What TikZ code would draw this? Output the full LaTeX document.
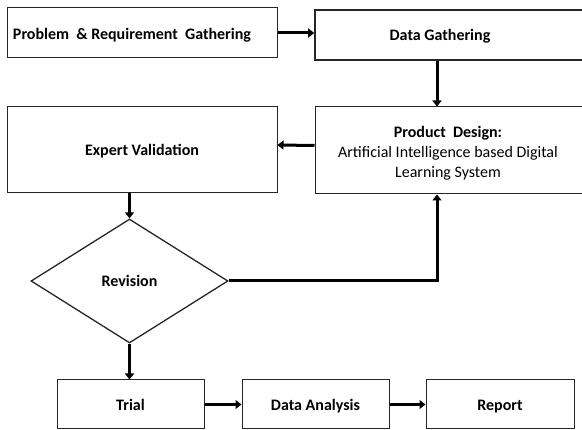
\documentclass[tikz,border=0pt]{standalone}
\usepackage{fontspec}
\setmainfont{Carlito}
\usetikzlibrary{arrows.meta,shapes.geometric}

\tikzset{
  labelfont/.style={font=\fontsize{16}{20}\selectfont\bfseries, text height=13pt, text depth=1pt},
  stepbox/.style={draw=black!85, line width=1pt, rectangle, inner sep=0pt, labelfont},
  widebox/.style={stepbox, line width=1.6pt},
  txt/.style={inner sep=0pt, align=center, font=\fontsize{16}{20}\selectfont},
  decision/.style={draw=black!85, line width=1.3pt, diamond, aspect=1.59, inner sep=0pt,
    minimum width=197pt, minimum height=124pt, labelfont},
  flow/.style={line width=3pt, -{Triangle[width=9pt,length=6pt]}},
}

\begin{document}
\begin{tikzpicture}[x=1pt, y=-1pt]
  \useasboundingbox (0,0) rectangle (582,430);
  \clip (0,0) rectangle (582,430);

  % top row
  \node[stepbox, minimum width=270pt, minimum height=50pt] (b1) at (142,33) {};
  \node[inner sep=0pt, labelfont] (t1) at (132,34) {Problem \ \& Requirement \ Gathering};
  \node[widebox, minimum width=285pt, minimum height=50pt] (b2) at (457.5,35) {};
  \node[inner sep=0pt, labelfont] (t2) at (440,35) {Data Gathering};

  % middle row
  \node[stepbox, minimum width=270pt, minimum height=86pt] (b4) at (142,150) {Expert Validation};
  \node[stepbox, minimum width=285pt, minimum height=87pt] (b3) at (457.5,150.5) {};
  \node[txt] (t3) at (448,153) {\textbf{Product \ Design:}\\Artificial Intelligence based Digital\\Learning System};

  % decision
  \node[decision] (rev) at (129.5,281) {Revision};

  % bottom row
  \node[stepbox, minimum width=147pt, minimum height=49pt] (trial) at (130.5,404.5) {Trial};
  \node[stepbox, minimum width=147pt, minimum height=49pt] (da) at (315.5,404.5) {Data Analysis};
  \node[stepbox, minimum width=148pt, minimum height=49pt] (rep) at (500,404.5) {Report};

  \coordinate (col) at (437,0);

  % connectors
  \draw[flow] (b1.east) -- (b1.east -| b2.west);
  \draw[flow] (col |- b2.south) -- (col |- b3.north);
  \draw[flow] ([yshift=5pt]b3.west) -- ([yshift=5pt]b4.east);
  \draw[flow] (rev.north |- b4.south) -- (rev.north);
  \draw[flow] (rev.east) -| (col |- b3.south);
  \draw[flow] (rev.south) -- (rev.south |- trial.north);
  \draw[flow] (trial.east) -- (da.west);
  \draw[flow] (da.east) -- (rep.west);
\end{tikzpicture}
\end{document}
